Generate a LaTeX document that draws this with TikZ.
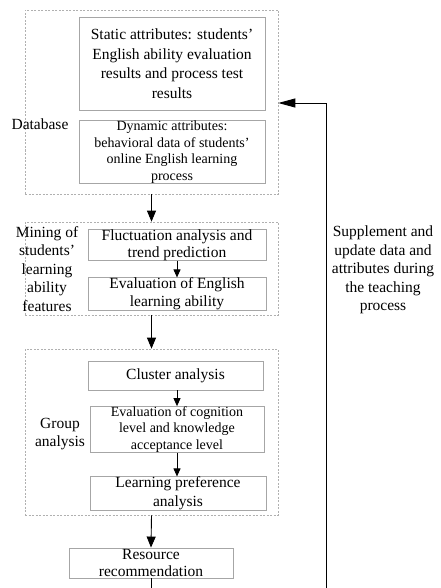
\documentclass[tikz,border=0pt]{standalone}
\usepackage{fontspec}
\setmainfont{Liberation Serif}
\usetikzlibrary{arrows.meta}
\definecolor{boxgray}{HTML}{A6A6A6}
\definecolor{dashgray}{HTML}{B0B0B0}
\tikzset{
  grpbox/.style={draw=dashgray, line width=0.7pt, dash pattern=on 2pt off 1.5pt},
  boxnode/.style={draw=boxgray, line width=0.9pt, rectangle, inner sep=0pt, align=center,
     font=\fontsize{15.5}{18}\selectfont},
  smalltext/.style={font=\fontsize{14}{16.5}\selectfont},
  lbl/.style={align=center, inner sep=0pt, font=\fontsize{15.5}{18.5}\selectfont},
  bigarrow/.style={line width=0.9pt, -{Triangle[length=11pt,width=9pt]}},
  smallarrow/.style={line width=0.9pt, -{Triangle[length=8pt,width=7pt]}},
}
\begin{document}
\begin{tikzpicture}[x=1pt,y=-1pt]
\useasboundingbox (0,0) rectangle (440,588);
% group frames
\node[grpbox, minimum width=253pt, minimum height=184pt, inner sep=0pt] (db) at (151.5,102) {};
\node[grpbox, minimum width=253pt, minimum height=93pt, inner sep=0pt] (mine) at (151.5,268.5) {};
\node[grpbox, minimum width=253pt, minimum height=166pt, inner sep=0pt] (grp) at (151.5,432) {};
% boxes
\node[boxnode, minimum width=186pt, minimum height=93pt, font=\fontsize{15.5}{19.5}\selectfont] (static) at (172,63.5)
  {Static attributes: students'\\English ability evaluation\\results and process test\\results};
\node[boxnode, smalltext, minimum width=186pt, minimum height=62pt] (dyn) at (172,152)
  {Dynamic attributes:\\behavioral data of students'\\online English learning\\process};
\node[boxnode, minimum width=178pt, minimum height=30pt, font=\fontsize{15.5}{17}\selectfont] (fluct) at (177,245)
  {Fluctuation analysis and\\trend prediction};
\node[boxnode, minimum width=178pt, minimum height=30pt] (evaleng) at (177,294)
  {Evaluation of English\\learning ability};
\node[boxnode, minimum width=175pt, minimum height=29pt] (cluster) at (175.5,375.5)
  {Cluster analysis};
\node[boxnode, smalltext, minimum width=174pt, minimum height=45pt] (cog) at (177,429.5)
  {Evaluation of cognition\\level and knowledge\\acceptance level};
\node[boxnode, minimum width=176pt, minimum height=29pt, font=\fontsize{15.5}{19}\selectfont] (pref) at (178,493.5)
  {Learning preference\\analysis};
\node[boxnode, minimum width=164pt, minimum height=30pt, font=\fontsize{15.5}{17}\selectfont] (res) at (151,563)
  {Resource\\recommendation};
% labels
\node[lbl] (dblbl) at (40,124) {Database};
\node[lbl] (minelbl) at (47,269) {Mining of\\students'\\learning\\ability\\features};
\node[lbl] (grplbl) at (60,434) {Group\\analysis};
\node[lbl] (suplbl) at (383,270) {Supplement and\\update data and\\attributes during\\the teaching\\process};
% connectors
\draw[bigarrow] (db.south) -- (mine.north);
\draw[bigarrow] (mine.south) -- (grp.north);
\draw[bigarrow] (grp.south) -- (res.north);
\draw[smallarrow] (fluct.south) -- (evaleng.north);
\draw[smallarrow] (cluster.south -| cog.north) -- (cog.north);
\draw[smallarrow] (cog.south) -- (cog.south |- pref.north);
\coordinate (resend) at (151,588);
\draw[line width=0.9pt] (res.south) -- (resend);
\coordinate (fbstart) at (326,588);
\coordinate (fbcorner) at (326,103);
\draw[line width=0.9pt, -{Triangle[length=17pt,width=9pt]}] (fbstart) -- (fbcorner) -- (fbcorner -| db.east);
\end{tikzpicture}
\end{document}
